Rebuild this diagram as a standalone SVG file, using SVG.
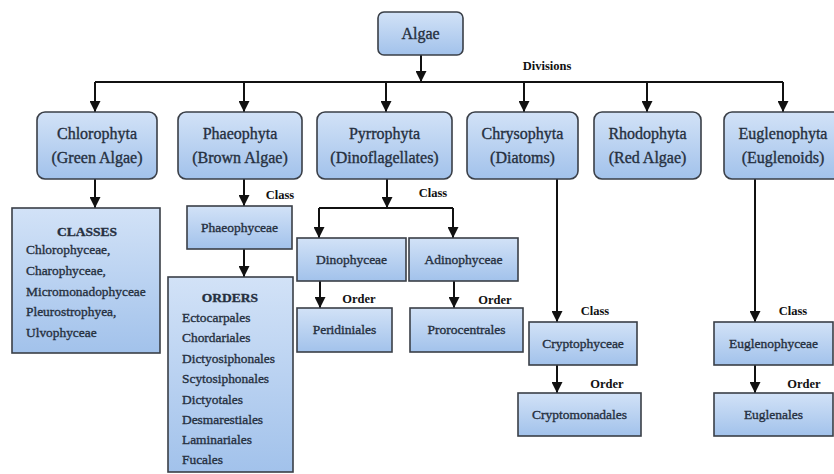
<svg xmlns="http://www.w3.org/2000/svg" width="834" height="474" viewBox="0 0 834 474">
<defs>
<linearGradient id="g" x1="0" y1="0" x2="0" y2="1">
<stop offset="0" stop-color="#d2e2f7"/>
<stop offset="1" stop-color="#a2c2eb"/>
</linearGradient>
<marker id="ah" viewBox="0 0 12 12" refX="12" refY="6" markerWidth="12" markerHeight="11" markerUnits="userSpaceOnUse" orient="auto">
<path d="M0,0 L12,6 L0,12 z" fill="#111"/>
</marker>
<style>
.box{fill:url(#g);stroke:#3a3f47;stroke-width:1.6}
.t{font-family:'Liberation Serif','DejaVu Serif',serif;fill:#26303f;stroke:#26303f;stroke-width:0.35;text-anchor:middle}
.d{font-size:16px}
.s{font-size:13.5px}
.l{font-size:13.4px;text-anchor:start}
.h{font-size:13.5px;font-weight:bold}
.lab{font-family:'Liberation Serif','DejaVu Serif',serif;font-size:12.5px;font-weight:bold;fill:#111;text-anchor:middle}
.c{fill:none;stroke:#111;stroke-width:2}
</style>
</defs>
<rect width="834" height="474" fill="#fff"/>

<g id="connectors">
<path class="c" d="M421 55 V82" marker-end="url(#ah)"/>
<path class="c" d="M95 82 H783"/>
<path class="c" d="M95 82 V112" marker-end="url(#ah)"/>
<path class="c" d="M244 82 V112" marker-end="url(#ah)"/>
<path class="c" d="M386 82 V112" marker-end="url(#ah)"/>
<path class="c" d="M524 82 V112" marker-end="url(#ah)"/>
<path class="c" d="M647 82 V112" marker-end="url(#ah)"/>
<path class="c" d="M783 82 V112" marker-end="url(#ah)"/>
<path class="c" d="M95 179 V208" marker-end="url(#ah)"/>
<path class="c" d="M244 179 V206" marker-end="url(#ah)"/>
<path class="c" d="M244 249 V277" marker-end="url(#ah)"/>
<path class="c" d="M387 179 V208" marker-end="url(#ah)"/>
<path class="c" d="M319 208 H453"/>
<path class="c" d="M319 208 V238" marker-end="url(#ah)"/>
<path class="c" d="M453 208 V238" marker-end="url(#ah)"/>
<path class="c" d="M320 281 V308" marker-end="url(#ah)"/>
<path class="c" d="M454 281 V308" marker-end="url(#ah)"/>
<path class="c" d="M557 179 V322" marker-end="url(#ah)"/>
<path class="c" d="M557 365 V393" marker-end="url(#ah)"/>
<path class="c" d="M755 179 V322" marker-end="url(#ah)"/>
<path class="c" d="M755 365 V393" marker-end="url(#ah)"/>
<text class="lab" x="547" y="70">Divisions</text>
<text class="lab" x="280" y="199">Class</text>
<text class="lab" x="433" y="197">Class</text>
<text class="lab" x="359" y="303">Order</text>
<text class="lab" x="495" y="304">Order</text>
<text class="lab" x="595" y="315">Class</text>
<text class="lab" x="607" y="388">Order</text>
<text class="lab" x="793" y="315">Class</text>
<text class="lab" x="804" y="388">Order</text>
</g>

<g id="algae">
<rect class="box" x="378" y="12" width="85" height="43" rx="6"/>
<text class="t d" x="420.5" y="39">Algae</text>
</g>

<g id="chlorophyta">
<rect class="box" x="37" y="112" width="120" height="67" rx="8"/>
<text class="t d" x="97" y="139">Chlorophyta</text>
<text class="t d" x="97" y="163">(Green Algae)</text>
</g>
<g id="phaeophyta">
<rect class="box" x="178" y="112" width="124" height="67" rx="8"/>
<text class="t d" x="240" y="139">Phaeophyta</text>
<text class="t d" x="240" y="163">(Brown Algae)</text>
</g>
<g id="pyrrophyta">
<rect class="box" x="317" y="112" width="135" height="67" rx="8"/>
<text class="t d" x="384.5" y="139">Pyrrophyta</text>
<text class="t d" x="384.5" y="163">(Dinoflagellates)</text>
</g>
<g id="chrysophyta">
<rect class="box" x="467" y="112" width="111" height="67" rx="8"/>
<text class="t d" x="522.5" y="139">Chrysophyta</text>
<text class="t d" x="522.5" y="163">(Diatoms)</text>
</g>
<g id="rhodophyta">
<rect class="box" x="594" y="112" width="107" height="67" rx="8"/>
<text class="t d" x="647.5" y="139">Rhodophyta</text>
<text class="t d" x="647.5" y="163">(Red Algae)</text>
</g>
<g id="euglenophyta">
<rect class="box" x="724" y="112" width="118" height="67" rx="8"/>
<text class="t d" x="783" y="139">Euglenophyta</text>
<text class="t d" x="783" y="163">(Euglenoids)</text>
</g>

<g id="classes">
<rect class="box" x="12" y="208" width="148" height="145"/>
<text class="t h" x="87" y="236">CLASSES</text>
<text class="t l" x="26" y="254">Chlorophyceae,</text>
<text class="t l" x="26" y="275">Charophyceae,</text>
<text class="t l" x="26" y="296">Micromonadophyceae</text>
<text class="t l" x="26" y="316">Pleurostrophyea,</text>
<text class="t l" x="26" y="337">Ulvophyceae</text>
</g>

<g id="phaeophyceae">
<rect class="box" x="187" y="206" width="105" height="43"/>
<text class="t s" x="239.5" y="232">Phaeophyceae</text>
</g>

<g id="orders">
<rect class="box" x="168" y="277" width="125" height="195"/>
<text class="t h" x="230" y="302">ORDERS</text>
<text class="t l" x="182" y="322">Ectocarpales</text>
<text class="t l" x="182" y="342">Chordariales</text>
<text class="t l" x="182" y="363">Dictyosiphonales</text>
<text class="t l" x="182" y="383">Scytosiphonales</text>
<text class="t l" x="182" y="404">Dictyotales</text>
<text class="t l" x="182" y="424">Desmarestiales</text>
<text class="t l" x="182" y="444">Laminariales</text>
<text class="t l" x="182" y="464">Fucales</text>
</g>

<g id="dinophyceae">
<rect class="box" x="297" y="238" width="109" height="43"/>
<text class="t s" x="351.5" y="264">Dinophyceae</text>
</g>
<g id="adinophyceae">
<rect class="box" x="409" y="238" width="109" height="43"/>
<text class="t s" x="463.5" y="264">Adinophyceae</text>
</g>
<g id="peridiniales">
<rect class="box" x="297" y="308" width="95" height="44"/>
<text class="t s" x="344.5" y="334">Peridiniales</text>
</g>
<g id="prorocentrales">
<rect class="box" x="410" y="308" width="113" height="44"/>
<text class="t s" x="466.5" y="334">Prorocentrales</text>
</g>
<g id="cryptophyceae">
<rect class="box" x="529" y="322" width="108" height="43"/>
<text class="t s" x="583" y="348">Cryptophyceae</text>
</g>
<g id="cryptomonadales">
<rect class="box" x="518" y="393" width="123" height="43"/>
<text class="t s" x="579.5" y="419">Cryptomonadales</text>
</g>
<g id="euglenophyceae">
<rect class="box" x="714" y="322" width="119" height="43"/>
<text class="t s" x="773.5" y="348">Euglenophyceae</text>
</g>
<g id="euglenales">
<rect class="box" x="714" y="393" width="119" height="43"/>
<text class="t s" x="773.5" y="419">Euglenales</text>
</g>
</svg>
